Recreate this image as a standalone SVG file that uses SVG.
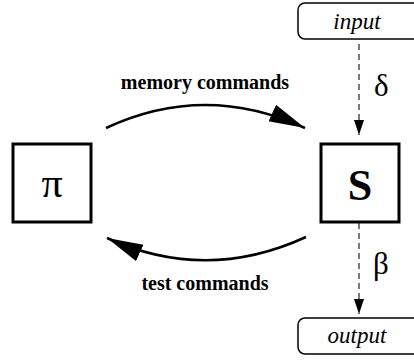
<svg xmlns="http://www.w3.org/2000/svg" width="414" height="361" viewBox="0 0 414 361">
<style>
.box{fill:#fff;stroke:#000;stroke-width:3}
.rbox{fill:#fff;stroke:#000;stroke-width:1.5}
.arc{fill:none;stroke:#000;stroke-width:2.5}
.dash{fill:none;stroke:#222;stroke-width:1.2;stroke-dasharray:6,4}
.lbl{font-family:"Liberation Serif",serif;font-weight:bold;font-size:20px;text-anchor:middle}
.it{font-family:"Liberation Serif",serif;font-style:italic;font-size:23px;text-anchor:middle}
.gr{font-family:"Liberation Serif","DejaVu Serif",serif;font-size:31px}
</style>
<defs>
<marker id="big" markerUnits="userSpaceOnUse" markerWidth="40" markerHeight="24" refX="36" refY="9" orient="auto">
<path d="M0,0 L36,9 L0,18 Z" fill="#000"/>
</marker>
<marker id="small" markerUnits="userSpaceOnUse" markerWidth="16" markerHeight="12" refX="15" refY="5" orient="auto">
<path d="M0,0 L15,5 L0,10 Z" fill="#000"/>
</marker>
</defs>
<g id="pi"><rect class="box" x="13" y="144" width="78" height="78"/><text x="52" y="197" font-family="Liberation Serif,serif" font-size="42" text-anchor="middle">π</text></g>
<g id="S"><rect class="box" x="321" y="144" width="78" height="78"/><text x="360" y="200" font-family="Liberation Serif,serif" font-weight="bold" font-size="44" text-anchor="middle">S</text></g>
<g id="input"><rect class="rbox" x="298" y="3" width="124" height="36" rx="7"/><text class="it" x="357" y="29">input</text></g>
<g id="output"><rect class="rbox" x="298" y="318" width="124" height="36" rx="7"/><text class="it" x="357" y="343">output</text></g>
<g id="connectors">
<path class="arc" d="M106,128 Q205,82 305,128" marker-end="url(#big)"/>
<path class="arc" d="M306,237 Q206,283 107,238" marker-end="url(#big)"/>
<path class="dash" d="M359,44 V135" marker-end="url(#small)"/>
<path class="dash" d="M359,223 V314" marker-end="url(#small)"/>
</g>
<text class="lbl" x="205" y="89">memory commands</text>
<text class="lbl" x="205" y="290">test commands</text>
<text class="gr" x="374" y="96">δ</text>
<text class="gr" x="373" y="274">β</text>
</svg>
